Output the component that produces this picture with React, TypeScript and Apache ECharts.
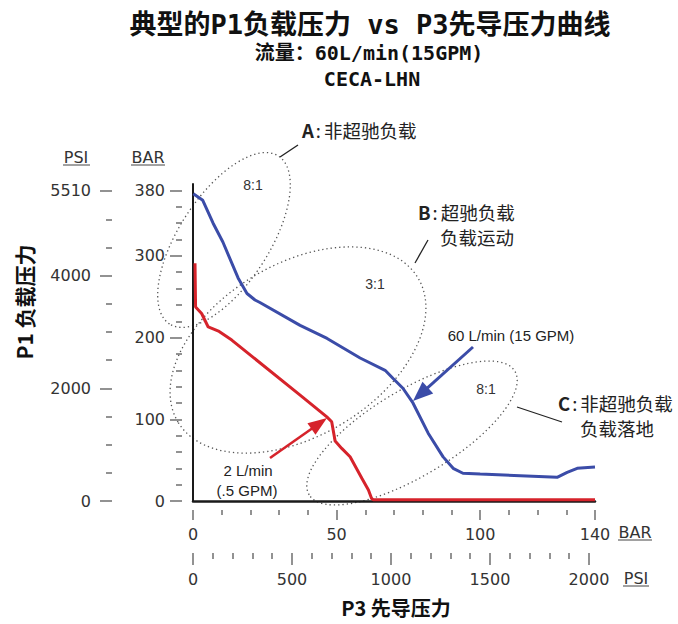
import React, { useEffect, useRef } from 'react';
import * as echarts from 'echarts';

// ---- data (bar units) ----
const BLUE_X = [0.1, 3.4, 7.0, 10.4, 15.7, 18.8, 21.6, 23.3, 37.3, 46.7, 58.2, 66.9, 69.7, 73.1, 76.6, 81.9, 87.1, 90.6, 94.0, 100, 126.8, 130.3, 133.8, 140];
const BLUE_Y = [376, 368, 340, 317, 273, 254, 246, 243, 215, 199, 175, 160, 150, 138, 120, 83, 54, 40, 34, 33, 29, 35, 40, 41.5];
const RED_X = [0.7, 0.9, 3.0, 5.3, 9.1, 13.5, 37.3, 46.6, 48.3, 49.5, 51.8, 54.7, 58.8, 61.1, 62.2, 62.8, 140];
const RED_Y = [291, 237.5, 229.5, 213, 207.5, 197, 129.6, 103, 97, 73.3, 64.4, 54.2, 27.8, 13.4, 3, 1.5, 1.5];

const PSI_PER_BAR = 14.5038;
const X_MAX_BAR = 140;
const Y_MAX_BAR = 388;

const BAR_Y_LABELS = [0, 100, 200, 300, 380];
const BAR_Y_MINOR = [20, 40, 60, 80, 120, 140, 160, 180, 220, 240, 260, 280, 320, 340, 360];
const PSI_Y_LABELS = [0, 2000, 4000, 5510];
const PSI_Y_MINOR = [500, 1000, 1500, 2500, 3000, 3500, 4500, 5000];
const BAR_X_LABELS = [0, 50, 100, 140];
const BAR_X_MINOR = [10, 20, 30, 40, 60, 70, 80, 90, 110, 120, 130];
const PSI_X_LABELS = [0, 500, 1000, 1500, 2000];
const PSI_X_MINOR = [100, 200, 300, 400, 600, 700, 800, 900, 1100, 1200, 1300, 1400, 1600, 1700, 1800, 1900];

const BLUE = '#3b4ca8';
const RED = '#d6232b';
const LABEL_FONT = 'DejaVu Sans';
const CJK = "'Noto Sans CJK SC'";
const MONO_CJK = "'DejaVu Sans Mono', 'Noto Sans CJK SC'";

function arrow(from: number[], tip: number[], len: number, hw: number, color: string, width: number) {
  const dx = tip[0] - from[0];
  const dy = tip[1] - from[1];
  const L = Math.hypot(dx, dy);
  const ux = dx / L, uy = dy / L;
  const bx = tip[0] - ux * len, by = tip[1] - uy * len;
  return [
    { type: 'line', silent: true, shape: { x1: from[0], y1: from[1], x2: bx + ux * 2, y2: by + uy * 2 }, style: { stroke: color, lineWidth: width } },
    { type: 'polygon', silent: true, shape: { points: [[tip[0], tip[1]], [bx - uy * hw, by + ux * hw], [bx + uy * hw, by - ux * hw]] }, style: { fill: color } },
  ];
}

function ellipse(cx: number, cy: number, a: number, b: number, deg: number) {
  return {
    type: 'ellipse', silent: true, x: cx, y: cy, rotation: (deg * Math.PI) / 180,
    shape: { cx: 0, cy: 0, rx: a, ry: b },
    style: { fill: 'none', stroke: '#555', lineWidth: 1.3, lineDash: [1.3, 3] },
  };
}

function txt(x: number, y: number, text: string, size: number, opts: any = {}) {
  return {
    type: 'text', silent: true, x, y, rotation: opts.rotation || 0,
    style: {
      text, fontSize: size, fontFamily: opts.family || CJK, fontWeight: opts.weight || 'normal',
      fill: opts.color || '#222', align: opts.align || 'left', verticalAlign: 'middle',
      lineHeight: opts.lineHeight, rich: opts.rich,
    },
  };
}

function hline(x1: number, x2: number, y: number) {
  return { type: 'line', silent: true, shape: { x1, y1: y, x2, y2: y }, style: { stroke: '#444', lineWidth: 1 } };
}

function tickAxis(base: any, ticks: number[], len: number, labels: number[] | null, margin: number) {
  return {
    ...base,
    type: 'value',
    splitLine: { show: false },
    axisLine: { show: false, onZero: false },
    axisTick: { show: true, customValues: ticks, length: len, lineStyle: { color: '#777', width: 1.6 } },
    axisLabel: labels
      ? { show: true, customValues: labels, margin, fontSize: 16, fontFamily: LABEL_FONT, color: '#333', formatter: (v: number) => String(v) }
      : { show: false },
  };
}

const CALLOUT = 18.5;
const CALLOUT_LH = 21;
const calloutRich = {
  b: { fontWeight: 'bold', fontSize: CALLOUT, fontFamily: CJK, color: '#222', lineHeight: CALLOUT_LH },
  c: { fontSize: CALLOUT, fontFamily: CJK, padding: [0, 3, 0, 2], color: '#222', lineHeight: CALLOUT_LH },
};
const calloutOpts = { rich: calloutRich, lineHeight: CALLOUT_LH };

export default function App() {
  const ref = useRef<HTMLDivElement>(null);
  useEffect(() => {
    if (!ref.current) return;
    const chart = echarts.init(ref.current, null, { renderer: 'svg' });
    const psiXMax = X_MAX_BAR * PSI_PER_BAR;
    const psiYMax = Y_MAX_BAR * PSI_PER_BAR;
    const xBase = (offset: number, max: number) => ({ position: 'bottom', offset, min: 0, max, gridIndex: 0 });
    const yBase = (offset: number, max: number) => ({ position: 'left', offset, min: 0, max, gridIndex: 0 });

    const option: any = {
      animation: false,
      backgroundColor: '#fff',
      grid: { left: 193, right: 83, top: 184, bottom: 123 },
      xAxis: [
        {
          type: 'value', min: 0, max: X_MAX_BAR, position: 'bottom',
          axisLine: { show: true, onZero: false, lineStyle: { color: '#1a1a1a', width: 2.5 } },
          axisTick: { show: false }, axisLabel: { show: false }, splitLine: { show: false },
        },
        tickAxis(xBase(9, X_MAX_BAR), BAR_X_LABELS, 10, BAR_X_LABELS, 16),
        tickAxis(xBase(9, X_MAX_BAR), BAR_X_MINOR, 5, null, 0),
        tickAxis(xBase(52, psiXMax), PSI_X_LABELS, 12, PSI_X_LABELS, 18),
        tickAxis(xBase(52, psiXMax), PSI_X_MINOR, 6, null, 0),
      ],
      yAxis: [
        {
          type: 'value', min: 0, max: Y_MAX_BAR, position: 'left',
          axisLine: { show: true, onZero: false, lineStyle: { color: '#1a1a1a', width: 2 } },
          axisTick: { show: false }, axisLabel: { show: false }, splitLine: { show: false },
        },
        tickAxis(yBase(11, Y_MAX_BAR), BAR_Y_LABELS, 12, BAR_Y_LABELS, 17),
        tickAxis(yBase(11, Y_MAX_BAR), BAR_Y_MINOR, 6, null, 0),
        tickAxis(yBase(81, psiYMax), PSI_Y_LABELS, 12, PSI_Y_LABELS, 21),
        tickAxis(yBase(81, psiYMax), PSI_Y_MINOR, 6, null, 0),
      ],
      series: [
        {
          name: '2 L/min (.5 GPM)', type: 'line', xAxisIndex: 0, yAxisIndex: 0, symbol: 'none',
          lineStyle: { color: RED, width: 3 }, data: RED_X.map((x, i) => [x, RED_Y[i]]), z: 3,
        },
        {
          name: '60 L/min (15 GPM)', type: 'line', xAxisIndex: 0, yAxisIndex: 0, symbol: 'none',
          lineStyle: { color: BLUE, width: 3 }, data: BLUE_X.map((x, i) => [x, BLUE_Y[i]]), z: 4,
        },
      ],
      graphic: [
        // titles
        txt(370, 24, '典型的P1负载压力 vs P3先导压力曲线', 27, { family: MONO_CJK, weight: 'bold', align: 'center', color: '#111' }),
        txt(369, 53, '流量：60L/min(15GPM)', 20, { family: MONO_CJK, weight: 'bold', align: 'center', color: '#111' }),
        txt(372, 79, 'CECA-LHN', 20, { family: MONO_CJK, weight: 'bold', align: 'center', color: '#111' }),
        // axis titles
        txt(24, 302, 'P1 负载压力', 21, { weight: 'bold', align: 'center', rotation: Math.PI / 2, color: '#111' }),
        txt(396, 607, 'P3 先导压力', 20, { weight: 'bold', align: 'center', color: '#111' }),
        // unit labels
        txt(76, 157, 'PSI', 16, { family: LABEL_FONT, align: 'center', color: '#333' }),
        hline(63, 90, 165),
        txt(148, 157, 'BAR', 16, { family: LABEL_FONT, align: 'center', color: '#333' }),
        hline(131, 165, 165),
        txt(635, 532, 'BAR', 16, { family: LABEL_FONT, align: 'center', color: '#333' }),
        hline(618, 652, 540),
        txt(636, 578, 'PSI', 16, { family: LABEL_FONT, align: 'center', color: '#333' }),
        hline(623, 649, 586),
        // ellipses
        ellipse(224, 240, 100, 45, 57),
        ellipse(298, 350, 140, 86, 31),
        ellipse(412, 433, 120, 43, 31),
        txt(253, 185, '8:1', 14, { family: 'Liberation Sans', align: 'center', color: '#333' }),
        txt(375, 284, '3:1', 14, { family: 'Liberation Sans', align: 'center', color: '#333' }),
        txt(486, 389, '8:1', 14, { family: 'Liberation Sans', align: 'center', color: '#333' }),
        // callouts
        txt(302, 130, '{b|A}{c|:}非超驰负载', CALLOUT, calloutOpts),
        { type: 'line', silent: true, shape: { x1: 298, y1: 145, x2: 280, y2: 157 }, style: { stroke: '#222', lineWidth: 1.3 } },
        txt(418, 212, '{b|B}{c|:}超驰负载', CALLOUT, calloutOpts),
        txt(440, 237, '负载运动', CALLOUT, { lineHeight: CALLOUT_LH }),
        { type: 'line', silent: true, shape: { x1: 428, y1: 240, x2: 415, y2: 263 }, style: { stroke: '#222', lineWidth: 1.3 } },
        txt(558, 403, '{b|C}{c|:}非超驰负载', CALLOUT, calloutOpts),
        txt(580, 428, '负载落地', CALLOUT, { lineHeight: CALLOUT_LH }),
        { type: 'line', silent: true, shape: { x1: 517, y1: 407, x2: 562, y2: 422 }, style: { stroke: '#222', lineWidth: 1.3 } },
        // flow labels and arrows
        txt(511, 335, '60 L/min (15 GPM)', 15, { family: 'Liberation Sans', align: 'center', color: '#222' }),
        ...arrow([473, 347], [413, 401], 20, 8, BLUE, 3),
        txt(248, 470, '2 L/min', 15, { family: 'Liberation Sans', align: 'center', color: '#222' }),
        txt(247, 490, '(.5 GPM)', 15, { family: 'Liberation Sans', align: 'center', color: '#222' }),
        ...arrow([270, 458], [327, 418], 19, 7, RED, 2.6),
      ],
    };
    chart.setOption(option);
    return () => chart.dispose();
  }, []);
  return <div ref={ref} style={{ position: 'fixed', left: 0, top: 0, width: 678, height: 624, background: '#fff' }} />;
}
